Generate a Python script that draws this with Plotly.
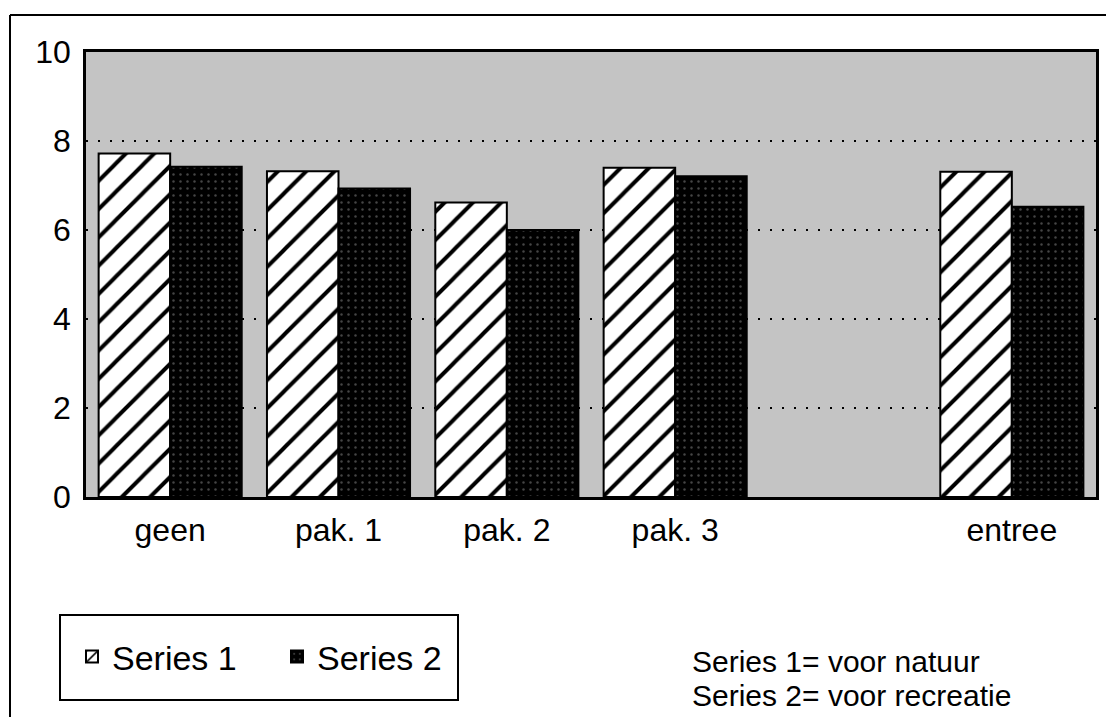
import plotly.graph_objects as go

categories = ["geen", "pak. 1", "pak. 2", "pak. 3", " ", "entree"]
series1 = [7.72, 7.32, 6.62, 7.40, None, 7.31]
series2 = [7.42, 6.93, 6.00, 7.21, None, 6.52]
series_names = ["Series 1", "Series 2"]
y_ticks = [0, 2, 4, 6, 8, 10]
notes = ["Series 1= voor natuur", "Series 2= voor recreatie"]

FONT = "Liberation Sans, Arial, Helvetica, sans-serif"
W, H = 1114, 717
OFF = 8  # page body margin offset
# target plot area in screenshot pixels: x 86..1096, y 52..497
L, T = 86 - OFF, 52 - OFF
R, B = W - (1096 - OFF), H - (497 - OFF)
pw, ph = W - L - R, H - T - B


def px(x):
    return (x - OFF - L) / pw


def py(y):
    return (H - B - (y - OFF)) / ph


fig = go.Figure()
fig.add_trace(go.Bar(
    x=categories, y=series1, name=series_names[0],
    marker=dict(color="white", line=dict(color="black", width=2),
                pattern=dict(shape="/", fgcolor="black", bgcolor="white",
                             fgopacity=1, size=20, solidity=0.2)),
))
fig.add_trace(go.Bar(
    x=categories, y=series2, name=series_names[1],
    marker=dict(color="black", line=dict(color="black", width=2),
                pattern=dict(shape=".", fgcolor="#8a8a8a", bgcolor="black",
                             size=7, solidity=0.1)),
))

fig.update_layout(
    width=W, height=H, autosize=False,
    margin=dict(l=L, r=R, t=T, b=B),
    paper_bgcolor="white", plot_bgcolor="#c4c4c4",
    barmode="group", bargap=0.15, bargroupgap=0,
    font=dict(family=FONT, size=32, color="black"),
    showlegend=True,
    legend=dict(orientation="h", x=px(72), xanchor="left", y=py(657), yanchor="middle",
                bgcolor="rgba(0,0,0,0)", borderwidth=0,
                font=dict(size=34, family=FONT, color="black"),
                entrywidth=160, entrywidthmode="pixels", itemsizing="constant"),
    xaxis=dict(type="category", categoryorder="array", categoryarray=categories,
               showline=True, linecolor="black", linewidth=3, mirror=True,
               showgrid=False, ticks="", ticklabelstandoff=3,
               tickfont=dict(size=32, family=FONT)),
    yaxis=dict(range=[0, 10], tickvals=y_ticks, showline=True, linecolor="black",
               linewidth=2.5, mirror=True, showgrid=True, gridcolor="black",
               gridwidth=2, griddash="2px,10px", zeroline=False, ticks="",
               ticklabelstandoff=6, tickfont=dict(size=32, family=FONT)),
)

# outer frame (partial, as in cropped original)
fig.add_shape(type="line", xref="paper", yref="paper", x0=px(10), x1=px(1130),
              y0=py(15), y1=py(15), line=dict(color="black", width=2))
fig.add_shape(type="line", xref="paper", yref="paper", x0=px(10), x1=px(10),
              y0=py(15), y1=py(730), line=dict(color="black", width=2))
# legend box
fig.add_shape(type="rect", xref="paper", yref="paper", x0=px(60), x1=px(458),
              y0=py(700), y1=py(615), line=dict(color="black", width=2))

for i, txt in enumerate(notes):
    fig.add_annotation(text=txt, xref="paper", yref="paper", x=px(690),
                       y=py(661 + 34 * i), xanchor="left", yanchor="middle",
                       showarrow=False, font=dict(size=30, family=FONT, color="black"))

fig.write_html("out.html")
